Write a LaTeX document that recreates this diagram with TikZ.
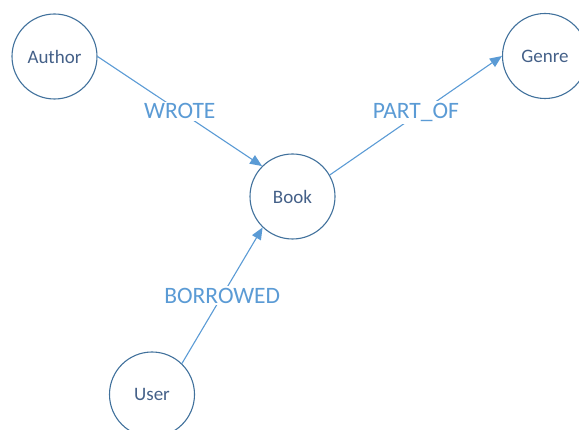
\documentclass[tikz,border=0pt]{standalone}
\usepackage{fontspec}
\setmainfont{Carlito}
\usetikzlibrary{arrows.meta}

\definecolor{ringblue}{RGB}{65,113,156}
\definecolor{edgeblue}{RGB}{91,155,213}
\definecolor{nodetext}{RGB}{68,96,136}

\begin{document}
\begin{tikzpicture}[x=1pt,y=1pt,yscale=-1,xscale=1,
  entity/.style={draw=ringblue,line width=1.1pt,circle,minimum size=85pt,inner sep=0pt,
    text=nodetext,font=\fontsize{19}{22}\selectfont},
  relation/.style={draw=edgeblue,line width=1.1pt,-{Triangle[length=12pt,width=10pt]}},
  rellabel/.style={fill=white,inner sep=2pt,text=edgeblue,font=\fontsize{23.5}{27}\selectfont}]
\useasboundingbox (0,0) rectangle (579,430);

%Shape: Circle [Author]
\node [entity] (author) at (54.5,56.5) {Author};
%Shape: Circle [Genre]
\node [entity] (genre) at (545,56) {Genre};
%Shape: Circle [Book]
\node [entity] (book) at (292.5,196.5) {Book};
%Shape: Circle [User]
\node [entity] (user) at (152,394.5) {User};

%Straight Lines [WROTE]
\draw [relation] (author.east) -- node [rellabel] {WROTE} (book.135);
%Straight Lines [PART_OF]
\draw [relation] (book.30) -- node [rellabel,yshift=3pt] {PART\_OF} (genre.180);
%Straight Lines [BORROWED]
\draw [relation] (user.46) -- node [rellabel] {BORROWED} (book.226);

\end{tikzpicture}
\end{document}
